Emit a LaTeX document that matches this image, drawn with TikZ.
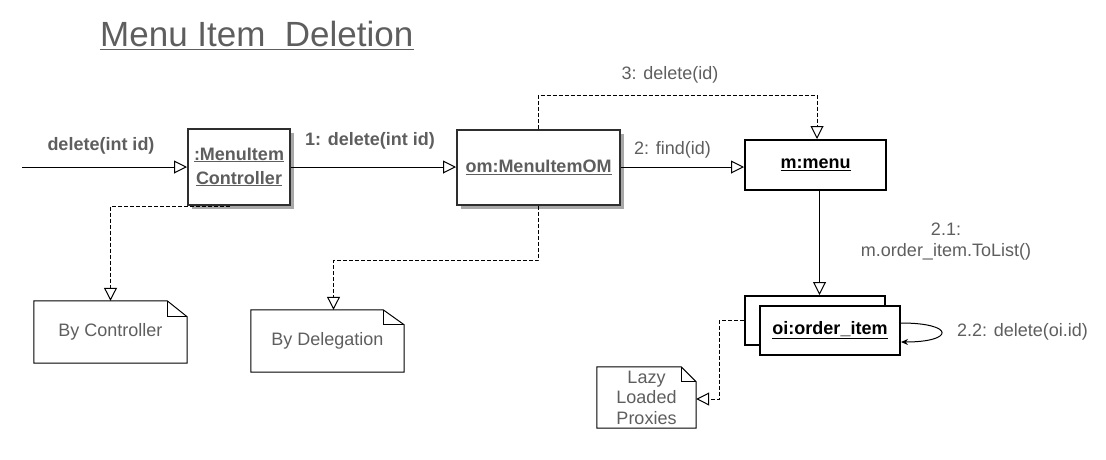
\documentclass[tikz,border=0pt]{standalone}
\usepackage{fontspec}
\setmainfont{Liberation Sans}
\usetikzlibrary{arrows.meta,shadows}
\definecolor{txt}{HTML}{5E5E5E}
\definecolor{boxc}{HTML}{2E2E2E}
\definecolor{shad}{HTML}{A8A8A8}
\begin{document}
\begin{tikzpicture}[x=1pt,y=-1pt,
  lbl/.style={text=txt, font=\fontsize{18}{21}\selectfont, inner sep=0, align=center},
  blbl/.style={lbl, font=\bfseries\fontsize{18}{21}\selectfont},
  obj/.style={draw=boxc, line width=2pt, fill=white, text=txt, align=center, inner sep=0,
    font=\bfseries\fontsize{18}{22}\selectfont,
    drop shadow={shadow xshift=4pt, shadow yshift=-4pt, fill=shad, opacity=1}},
  objk/.style={draw=black, line width=2pt, fill=white, text=black, align=center, inner sep=0,
    font=\bfseries\fontsize{18}{22}\selectfont},
  notebox/.style={inner sep=0, text=txt, align=center, font=\fontsize{18}{20.5}\selectfont},
  msg/.style={line width=1pt, -{Triangle[open, length=13pt, width=13pt, fill=white]}},
  dmsg/.style={msg, dash pattern=on 4pt off 2pt}
]
\useasboundingbox (0,0) rectangle (1106,459);

% title
\node[anchor=base west, inner sep=0, text=txt, font=\fontsize{35}{40}\selectfont] (title) at (100,46) {Menu Item\ \ Deletion};
\draw[txt, line width=1.5pt] ([yshift=-3.5pt]title.base west) -- ([yshift=-3.5pt]title.base east);

% objects
\node[obj, minimum width=102, minimum height=76] (ctrl) at (239,167) {\underline{:MenuItem}\\[2pt]\underline{Controller}};
\node[obj, minimum width=163, minimum height=75] (om) at (538.5,167.5) {\underline{om:MenuItemOM}};
\node[objk, minimum width=141, minimum height=50] (menu) at (815.5,165) {\underline{m:menu}};
\node[objk, minimum width=140, minimum height=49] (oiback) at (815,320.5) {};
\node[objk, minimum width=140, minimum height=49] (oi) at (830,330.5) {\underline{oi:order\_item}};

% notes
\node[notebox, minimum width=153, minimum height=62] (bc) at (110.5,332) {By Controller};
\node[notebox, minimum width=153, minimum height=62] (bd) at (327.5,341) {By Delegation};
\node[notebox, minimum width=99, minimum height=61] (lz) at (646.5,397.5) {Lazy\\Loaded\\Proxies};
\foreach \n/\fw/\fh in {bc/20/16, bd/21/15, lz/15/15}{
  \draw[line width=1pt] (\n.north west) -- ([xshift=-\fw pt]\n.north east) -- ([yshift=-\fh pt]\n.north east) -- (\n.south east) -- (\n.south west) -- cycle;
  \draw[line width=1pt] ([xshift=-\fw pt]\n.north east) |- ([yshift=-\fh pt]\n.north east);
}

% messages
\coordinate (start) at (22,167);
\draw[msg] (start) -- (start -| ctrl.west);
\node[blbl] (l0) at (101,146) {delete(int id)};
\draw[msg] (ctrl.east) -- (ctrl.east -| om.west);
\node[blbl] (l1) at (370,141) {1: delete(int id)};
\draw[msg] (om.east |- start) -- (start -| menu.west);
\node[lbl] (l2) at (672.5,150) {2: find(id)};
\draw[dmsg] (om.north) -- ++(0,-34) -| ([xshift=1.5pt]menu.north);
\node[lbl] (l3) at (670,75) {3: delete(id)};
\draw[msg] ([xshift=4pt]menu.south) -- ([xshift=4pt]menu.south |- oiback.north);
\node[lbl] (l21) at (946,242) {2.1:\\m.order\_item.ToList()};
\draw[line width=1pt, -{Stealth[length=7pt, width=6pt]}] ([yshift=7.5pt]oi.east) .. controls +(54,0) and +(54,0) .. ([yshift=-11.5pt]oi.east);
\node[lbl, anchor=west] (l22) at (957,332) {2.2: delete(oi.id)};

% note links
\draw[dmsg] ([xshift=-9pt]ctrl.south) -| (bc.north);
\draw[dmsg] (om.south) -- ++(0,54) -| ([xshift=6pt]bd.north);
\draw[dmsg] (oiback.west) -- ++(-25,0) |- ([yshift=-1.5pt]lz.east);
\end{tikzpicture}
\end{document}
